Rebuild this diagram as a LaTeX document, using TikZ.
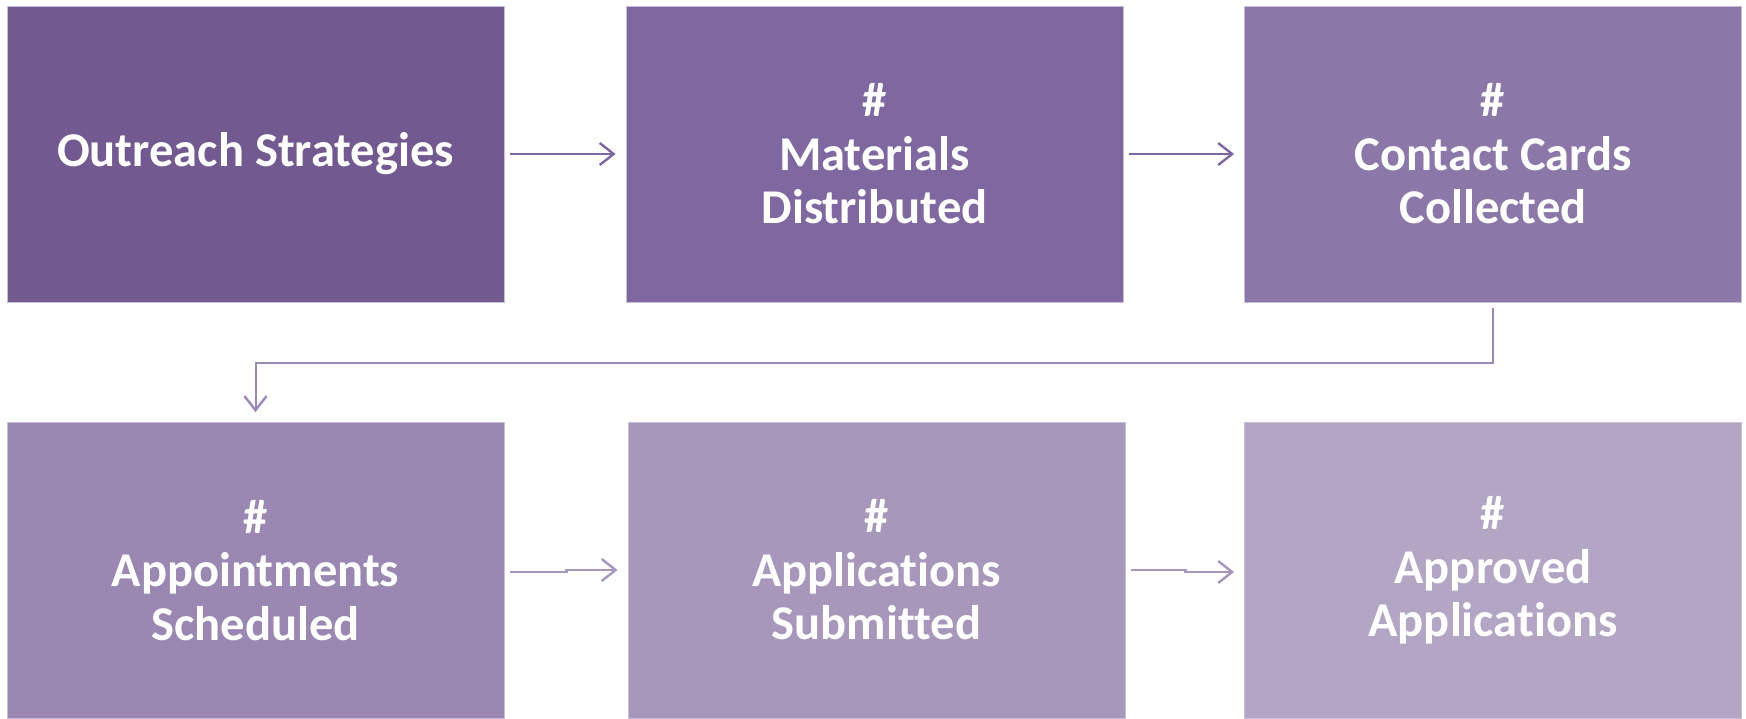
\documentclass[tikz,border=0pt]{standalone}
\usepackage{fontspec}
\setmainfont{Carlito}[RawFeature=-liga]
\usetikzlibrary{arrows.meta,calc}
\definecolor{c1}{HTML}{725A91}
\definecolor{c2}{HTML}{7F67A0}
\definecolor{c3}{HTML}{8C78A8}
\definecolor{c4}{HTML}{9A88B2}
\definecolor{c5}{HTML}{A797BB}
\definecolor{c6}{HTML}{B3A6C5}
\definecolor{edge}{HTML}{C9BEDA}
\definecolor{arrtop}{HTML}{7E66A0}
\definecolor{arrbot}{HTML}{A896BF}
\definecolor{arrturn}{HTML}{9C88B8}
\tikzset{
  stage/.style={rectangle, fill=#1, draw=edge, line width=0.8pt,
    minimum width=497pt, minimum height=296pt, inner sep=0pt,
    text=white, align=center,
    font=\bfseries\fontsize{48.5}{53.5}\selectfont},
  flow/.style={draw=#1, line width=2.4pt,
    -{Straight Barb[length=14pt,width=22pt,line width=2.4pt]}},
}
\begin{document}
\begin{tikzpicture}[x=1pt,y=-1pt]
  \useasboundingbox[fill=white] (0,0) rectangle (1746,718);
  % top row
  \node[stage=c1] (b1) at (255.5,154) {Outreach Strategies};
  \node[stage=c2] (b2) at (874.5,154) {\#\\Materials\\Distributed};
  \node[stage=c3] (b3) at (1493,154) {\#\\Contact Cards\\Collected};
  % bottom row
  \node[stage=c4] (b4) at (255.5,570.5) {\#\\Appointments\\Scheduled};
  \node[stage=c5] (b5) at (876.5,570) {\#\\Applications\\Submitted};
  \node[stage=c6] (b6) at (1493,570.5) {\#\\Approved\\Applications};
  % connectors along the top row
  \draw[flow=arrtop, shorten <=6pt, shorten >=10pt] (b1) -- (b2);
  \draw[flow=arrtop, shorten <=6pt, shorten >=10pt] (b2) -- (b3);
  % turn from the top row down to the bottom row
  \draw[flow=arrturn, line width=2pt, shorten <=6pt, shorten >=10pt]
    (b3.south) -- ++(0,61) -| (b4.north);
  % connectors along the bottom row, each with a small step
  \draw[flow=arrbot] ($(b4.east)+(6,1.5)$) -- ++(56,0) -- ++(0,-2)
    -- ($(b5.west)+(-10,0)$);
  \draw[flow=arrbot] ($(b5.east)+(6,0)$) -- ++(54,0) -- ++(0,2)
    -- ($(b6.west)+(-10,1.5)$);
\end{tikzpicture}
\end{document}
